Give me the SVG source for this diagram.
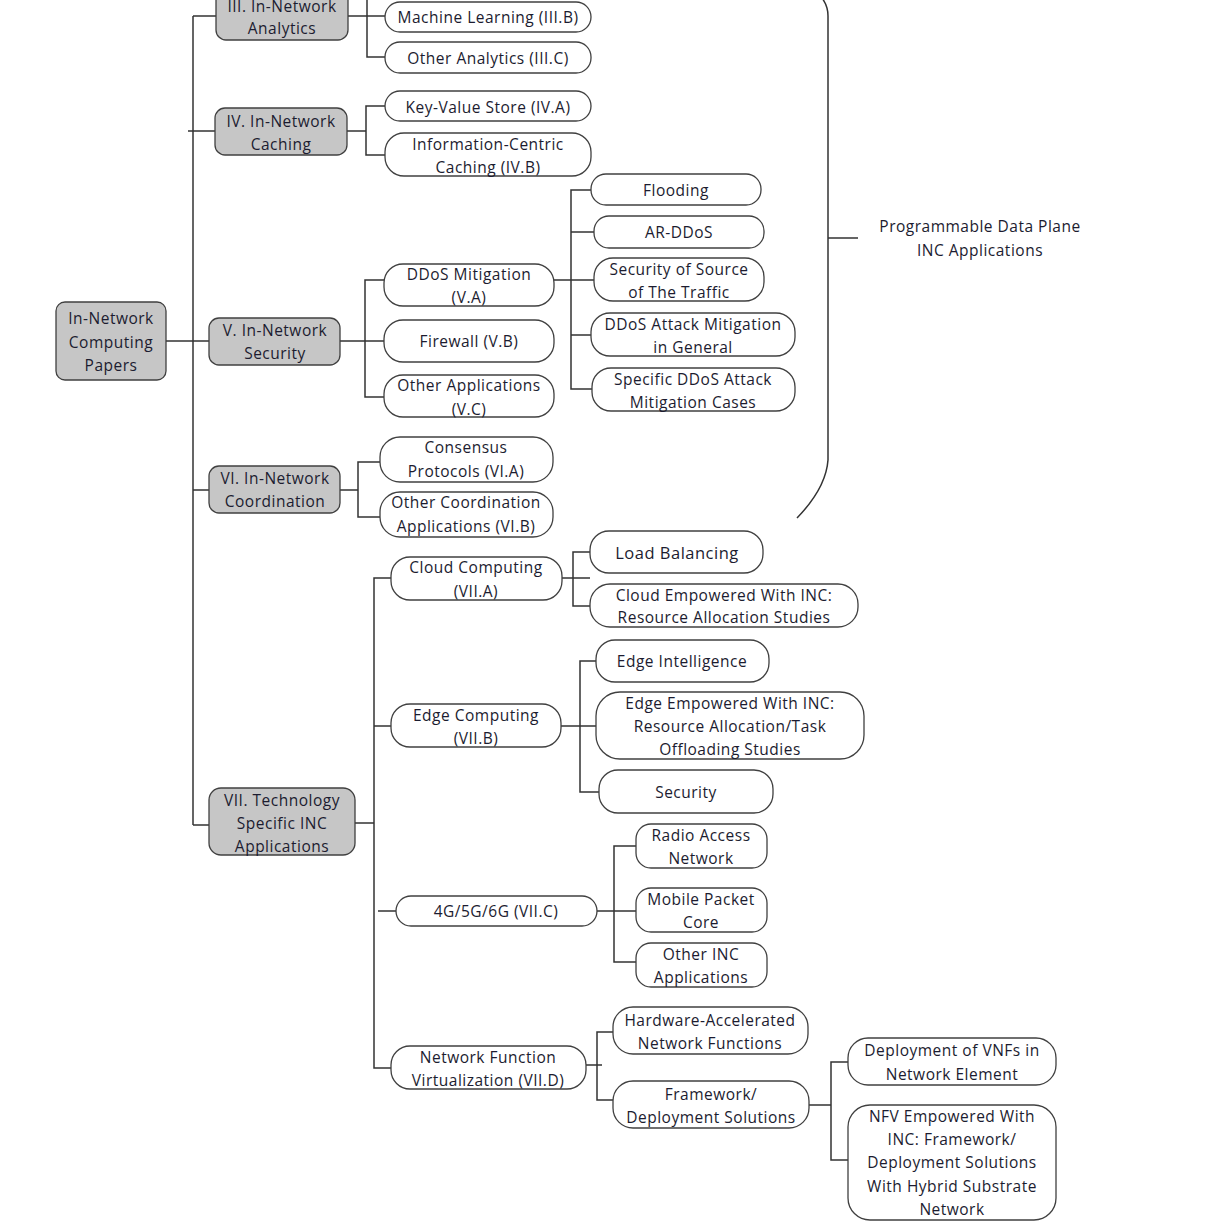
<svg xmlns="http://www.w3.org/2000/svg" width="1217" height="1231" viewBox="0 0 1217 1231">
<style>
  .g rect{fill:#c6c6c6;stroke:#404040;stroke-width:1.3}
  .w rect{fill:#ffffff;stroke:#404040;stroke-width:1.3}
  text{font-family:"Open Sans","Liberation Sans","DejaVu Sans",sans-serif;font-size:15.5px;letter-spacing:0.5px;fill:#1c1c30;text-anchor:middle;dominant-baseline:central}
  .conn path{fill:none;stroke:#333333;stroke-width:1.5}
</style>
<rect width="1217" height="1231" fill="#ffffff"/>
<g class="conn">
  <path d="M166 341H209 M193 16V825 M193 16H216 M188 131H215 M193 490H209 M193 825H209"/>
  <path d="M348 16H385 M367 0V57H385"/>
  <path d="M347 131H366 M385 106H366V155H385"/>
  <path d="M340 341H384 M384 280H365V397H384"/>
  <path d="M554 280H594 M591 190H571V389H592 M571 232H594 M571 335H591"/>
  <path d="M340 490H358 M380 462H358V517H380"/>
  <path d="M355 823H374 M391 578H374V1068H391 M374 726H391 M378 911H396"/>
  <path d="M562 578H590 M590 552H573V606H590"/>
  <path d="M561 726H596 M596 661H580V792H599"/>
  <path d="M597 911H636 M636 846H614V962H636"/>
  <path d="M586 1065H602 M613 1032H597V1100H613"/>
  <path d="M809 1105H831 M848 1062H831V1160H848"/>
  <path d="M822 -2Q828 6 828 16V460Q826 488 797 518 M828 238H858"/>
</g>
<g id="root" class="g"><rect x="56" y="302" width="110" height="78" rx="9"/><text x="111" y="318">In-Network</text><text x="111" y="342">Computing</text><text x="111" y="365">Papers</text></g>
<g id="n3" class="g"><rect x="216" y="-12" width="132" height="52" rx="10"/><text x="282" y="6">III. In-Network</text><text x="282" y="28">Analytics</text></g>
<g id="n4" class="g"><rect x="215" y="108" width="132" height="47" rx="10"/><text x="281" y="121">IV. In-Network</text><text x="281" y="144">Caching</text></g>
<g id="n5" class="g"><rect x="209" y="318" width="131" height="47" rx="10"/><text x="275" y="330">V. In-Network</text><text x="275" y="353">Security</text></g>
<g id="n6" class="g"><rect x="209" y="466" width="131" height="47" rx="10"/><text x="275" y="478">VI. In-Network</text><text x="275" y="501">Coordination</text></g>
<g id="n7" class="g"><rect x="209" y="788" width="146" height="67" rx="12"/><text x="282" y="800">VII. Technology</text><text x="282" y="823">Specific INC</text><text x="282" y="846">Applications</text></g>

<g id="n3b" class="w"><rect x="385" y="2" width="206" height="30" rx="15"/><text x="488" y="17">Machine Learning (III.B)</text></g>
<g id="n3c" class="w"><rect x="385" y="42" width="206" height="31" rx="15"/><text x="488" y="58">Other Analytics (III.C)</text></g>
<g id="n4a" class="w"><rect x="385" y="91" width="206" height="30" rx="15"/><text x="488" y="107">Key-Value Store (IV.A)</text></g>
<g id="n4b" class="w"><rect x="385" y="133" width="206" height="43" rx="19"/><text x="488" y="144">Information-Centric</text><text x="488" y="167">Caching (IV.B)</text></g>

<g id="n5a" class="w"><rect x="384" y="264" width="170" height="42" rx="19"/><text x="469" y="274">DDoS Mitigation</text><text x="469" y="297">(V.A)</text></g>
<g id="n5b" class="w"><rect x="384" y="320" width="170" height="42" rx="19"/><text x="469" y="341">Firewall (V.B)</text></g>
<g id="n5c" class="w"><rect x="384" y="375" width="170" height="42" rx="19"/><text x="469" y="385">Other Applications</text><text x="469" y="409">(V.C)</text></g>

<g id="nfl" class="w"><rect x="591" y="174" width="170" height="31" rx="15"/><text x="676" y="190">Flooding</text></g>
<g id="nar" class="w"><rect x="594" y="216" width="170" height="32" rx="15"/><text x="679" y="232">AR-DDoS</text></g>
<g id="nss" class="w"><rect x="594" y="258" width="170" height="43" rx="19"/><text x="679" y="269">Security of Source</text><text x="679" y="292">of The Traffic</text></g>
<g id="ndg" class="w"><rect x="591" y="313" width="204" height="43" rx="19"/><text x="693" y="324">DDoS Attack Mitigation</text><text x="693" y="347">in General</text></g>
<g id="nsd" class="w"><rect x="592" y="368" width="203" height="43" rx="19"/><text x="693" y="379">Specific DDoS Attack</text><text x="693" y="402">Mitigation Cases</text></g>

<g id="n6a" class="w"><rect x="380" y="437" width="173" height="45" rx="20"/><text x="466" y="447">Consensus</text><text x="466" y="471">Protocols (VI.A)</text></g>
<g id="n6b" class="w"><rect x="380" y="492" width="173" height="45" rx="20"/><text x="466" y="502">Other Coordination</text><text x="466" y="526">Applications (VI.B)</text></g>

<g id="n7a" class="w"><rect x="391" y="557" width="171" height="43" rx="19"/><text x="476" y="567">Cloud Computing</text><text x="476" y="591">(VII.A)</text></g>
<g id="nlb" class="w"><rect x="590" y="531" width="173" height="42" rx="19"/><text x="677" y="552" style="font-size:16.5px">Load Balancing</text></g>
<g id="nce" class="w"><rect x="590" y="584" width="268" height="43" rx="20"/><text x="724" y="595">Cloud Empowered With INC:</text><text x="724" y="617">Resource Allocation Studies</text></g>

<g id="n7b" class="w"><rect x="391" y="704" width="170" height="43" rx="19"/><text x="476" y="715">Edge Computing</text><text x="476" y="738">(VII.B)</text></g>
<g id="nei" class="w"><rect x="596" y="640" width="173" height="42" rx="19"/><text x="682" y="661">Edge Intelligence</text></g>
<g id="nee" class="w"><rect x="596" y="692" width="268" height="67" rx="24"/><text x="730" y="703">Edge Empowered With INC:</text><text x="730" y="726">Resource Allocation/Task</text><text x="730" y="749">Offloading Studies</text></g>
<g id="nsec" class="w"><rect x="599" y="770" width="174" height="43" rx="19"/><text x="686" y="792">Security</text></g>

<g id="n7c" class="w"><rect x="396" y="896" width="201" height="30" rx="15"/><text x="496" y="911">4G/5G/6G (VII.C)</text></g>
<g id="nran" class="w"><rect x="636" y="824" width="131" height="44" rx="15"/><text x="701" y="835">Radio Access</text><text x="701" y="858">Network</text></g>
<g id="nmpc" class="w"><rect x="636" y="888" width="131" height="44" rx="15"/><text x="701" y="899">Mobile Packet</text><text x="701" y="922">Core</text></g>
<g id="noinc" class="w"><rect x="636" y="943" width="131" height="44" rx="15"/><text x="701" y="954">Other INC</text><text x="701" y="977">Applications</text></g>

<g id="n7d" class="w"><rect x="391" y="1046" width="195" height="43" rx="19"/><text x="488" y="1057">Network Function</text><text x="488" y="1080">Virtualization (VII.D)</text></g>
<g id="nhw" class="w"><rect x="613" y="1007" width="195" height="47" rx="20"/><text x="710" y="1020">Hardware-Accelerated</text><text x="710" y="1043">Network Functions</text></g>
<g id="nfw" class="w"><rect x="613" y="1081" width="196" height="47" rx="20"/><text x="711" y="1094">Framework/</text><text x="711" y="1117">Deployment Solutions</text></g>
<g id="nvnf" class="w"><rect x="848" y="1038" width="208" height="47" rx="20"/><text x="952" y="1050">Deployment of VNFs in</text><text x="952" y="1074">Network Element</text></g>
<g id="nnfv" class="w"><rect x="848" y="1105" width="208" height="115" rx="22"/><text x="952" y="1116">NFV Empowered With</text><text x="952" y="1139">INC: Framework/</text><text x="952" y="1162">Deployment Solutions</text><text x="952" y="1186">With Hybrid Substrate</text><text x="952" y="1209">Network</text></g>

<g id="label"><text x="980" y="226">Programmable Data Plane</text><text x="980" y="250">INC Applications</text></g>
</svg>
